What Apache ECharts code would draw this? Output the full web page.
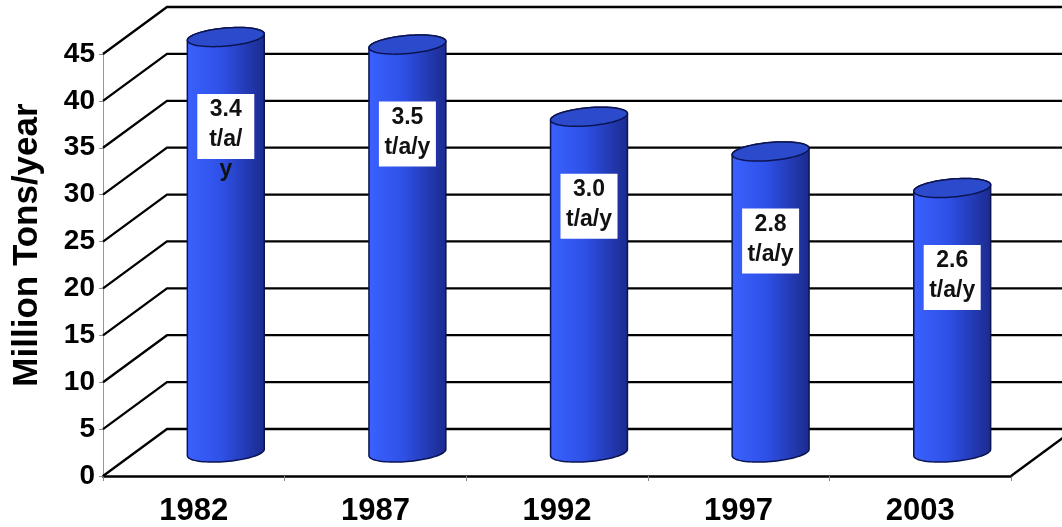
<!DOCTYPE html>
<html>
<head>
<meta charset="utf-8">
<script src="https://cdn.jsdelivr.net/npm/echarts@6/dist/echarts.min.js"></script>
<style>
  html, body { margin: 0; padding: 0; background: #fff; }
  #chart { width: 1062px; height: 527px; }
</style>
</head>
<body>
<div id="chart"></div>
<script>
// data
var years = ['1982', '1987', '1992', '1997', '2003'];
var tonnage = [44.3, 43.5, 35.8, 32.1, 28.2];          // Million Tons/year
var perCapita = ['3.4\nt/a/\ny', '3.5\nt/a/y', '3.0\nt/a/y', '2.8\nt/a/y', '2.6\nt/a/y'];
var yTicks = [0, 5, 10, 15, 20, 25, 30, 35, 40, 45];

// 3d look
var DEPTH_X = 64, DEPTH_Y = -47;
var FONT = "'Liberation Sans', Arial, sans-serif";
var TILT = 5 * Math.PI / 180;

function ellipsePts(cx, cy, a, b, t0, t1, n) {
    var pts = [];
    for (var k = 0; k <= n; k++) {
        var t = t0 + (t1 - t0) * k / n;
        pts.push([
            cx + a * Math.cos(t) * Math.cos(TILT) + b * Math.sin(t) * Math.sin(TILT),
            cy - a * Math.cos(t) * Math.sin(TILT) + b * Math.sin(t) * Math.cos(TILT)
        ]);
    }
    return pts;
}

// back wall + floor lines
function renderWall(params, api) {
    var cs = params.coordSys;
    var v = api.value(1);
    var y = api.coord([0, v])[1];
    var x0 = cs.x;
    var children = [{
        type: 'polyline',
        shape: { points: [[x0, y], [x0 + DEPTH_X, y + DEPTH_Y], [api.getWidth() + 20, y + DEPTH_Y]] },
        style: { stroke: '#000', lineWidth: 2.3, fill: null }
    }];
    if (v === 0) {
        var x1 = cs.x + cs.width;
        children.push({
            type: 'line',
            shape: { x1: x1, y1: y, x2: x1 + DEPTH_X * 1.3, y2: y + DEPTH_Y * 1.3 },
            style: { stroke: '#000', lineWidth: 2.3 }
        });
    }
    return { type: 'group', children: children };
}

// cylinders with the white label box
function renderCylinder(params, api) {
    var i = api.value(0);
    var v = api.value(1);
    var base = api.coord([i, 0]);
    var top = api.coord([i, v]);
    var band = api.size([1, 0])[0];
    var a = band * 0.2125, b = 9;
    var cx = base[0] + DEPTH_X / 2;
    var by = base[1] + DEPTH_Y / 2;
    var ty = top[1] + DEPTH_Y / 2;
    var tt = Math.atan((b / a) * Math.tan(TILT));

    var body = ellipsePts(cx, by, a, b, tt, tt + Math.PI, 40)
        .concat(ellipsePts(cx, ty, a, b, tt + Math.PI, tt + 2 * Math.PI, 40));
    var cap = ellipsePts(cx, ty, a, b, 0, 2 * Math.PI, 72);

    var boxTop = ty + 57;
    return {
        type: 'group',
        children: [{
            type: 'polygon',
            shape: { points: body },
            style: {
                fill: new echarts.graphic.LinearGradient(0, 0, 1, 0, [
                    { offset: 0, color: '#3a62ff' },
                    { offset: 0.45, color: '#2e50e6' },
                    { offset: 1, color: '#1b2a8e' }
                ]),
                stroke: '#0b1450', lineWidth: 1.5
            }
        }, {
            type: 'polygon',
            shape: { points: cap },
            style: { fill: '#2c4bcc', stroke: '#0b1450', lineWidth: 1.5 }
        }, {
            type: 'rect',
            shape: { x: cx - 28.5, y: boxTop, width: 57, height: 65 },
            style: { fill: '#fff' }
        }, {
            type: 'text',
            style: {
                text: perCapita[params.dataIndex],
                x: cx, y: boxTop + 1,
                align: 'center', textAlign: 'center',
                verticalAlign: 'top', textVerticalAlign: 'top',
                font: 'bold 23px ' + FONT,
                lineHeight: 30,
                fill: '#111'
            }
        }]
    };
}

var chart = echarts.init(document.getElementById('chart'));
chart.setOption({
    animation: false,
    backgroundColor: '#fff',
    grid: { left: 103, right: 51, top: 54, bottom: 48 },
    xAxis: {
        type: 'category',
        data: years,
        axisLine: { lineStyle: { color: '#000', width: 2.5 } },
        axisTick: { show: true, length: 5, lineStyle: { color: '#888' } },
        axisLabel: { color: '#000', fontSize: 31, fontWeight: 'bold', fontFamily: FONT, margin: 20 },
        splitLine: { show: false }
    },
    yAxis: {
        type: 'value',
        min: 0, max: 45, interval: 5,
        name: 'Million Tons/year',
        nameLocation: 'middle',
        nameRotate: 90,
        nameGap: 58,
        nameTextStyle: { color: '#000', fontSize: 35, fontWeight: 'bold', fontFamily: FONT, padding: [0, 0, 0, 40] },
        axisLine: { show: true, lineStyle: { color: '#999', width: 1 } },
        axisTick: { show: true, length: 4, lineStyle: { color: '#888' } },
        axisLabel: { color: '#000', fontSize: 28, fontWeight: 'bold', fontFamily: FONT, margin: 8 },
        splitLine: { show: false }
    },
    series: [{
        type: 'custom',
        name: 'wall',
        z: 1,
        silent: true,
        clip: false,
        renderItem: renderWall,
        data: yTicks.map(function (v) { return [0, v]; })
    }, {
        type: 'custom',
        name: 'Million Tons/year',
        z: 3,
        clip: false,
        renderItem: renderCylinder,
        data: tonnage.map(function (v, i) { return [i, v]; })
    }]
});
</script>
</body>
</html>
